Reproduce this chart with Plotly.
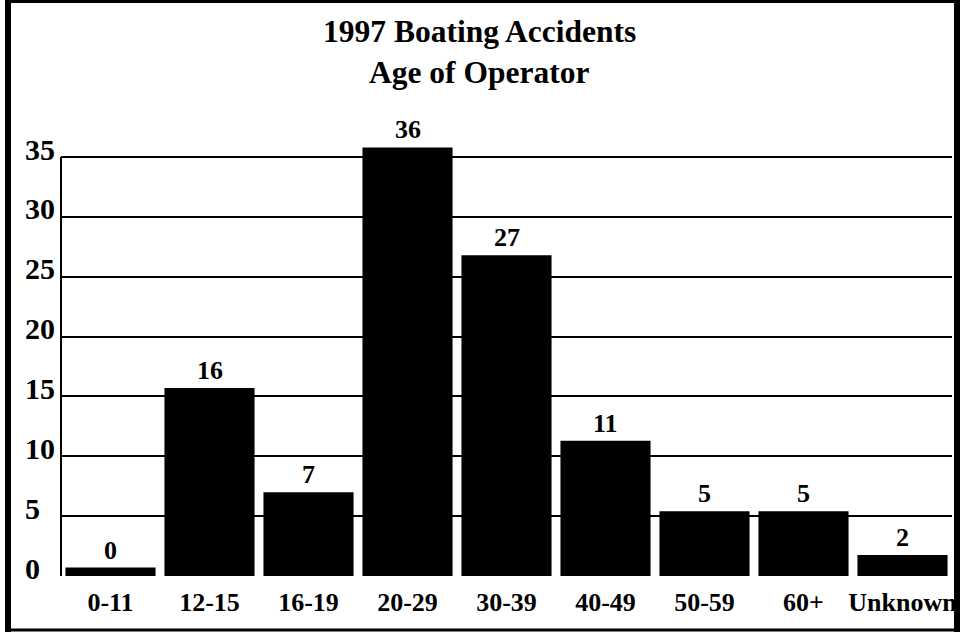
import plotly.graph_objects as go

# ---- data ----
categories = ["0-11", "12-15", "16-19", "20-29", "30-39", "40-49", "50-59", "60+", "Unknown"]
bar_heights = [0.7, 15.7, 7.0, 35.8, 26.8, 11.3, 5.4, 5.4, 1.75]   # drawn bar heights
bar_labels = ["0", "16", "7", "36", "27", "11", "5", "5", "2"]       # printed value labels
y_ticks = [0, 5, 10, 15, 20, 25, 30, 35]
title_lines = ["1997 Boating Accidents", "Age of Operator"]

# ---- layout geometry (pixels) ----
W, H = 968, 633
L, R, T, B = 61, 16, 140, 57
PW, PH = W - L - R, H - T - B
Y_MAX = (H - B - T) / 11.97  # ~11.97 px per unit

FONT = "Liberation Serif, Times New Roman, serif"


def px_x(p):
    return (p - L) / PW


def px_y(p):
    return (H - B - p) / PH


fig = go.Figure()
fig.add_trace(go.Bar(
    x=categories,
    y=bar_heights,
    marker=dict(color="black", line=dict(width=0)),
    hoverinfo="skip",
))

shapes = []
# left axis line from 0 to 35
shapes.append(dict(type="line", xref="paper", yref="y", x0=0, x1=0, y0=0, y1=max(y_ticks),
                   line=dict(color="black", width=2)))
# outer border
shapes.append(dict(type="line", xref="paper", yref="paper", x0=px_x(8), x1=px_x(8),
                   y0=px_y(0), y1=px_y(632), line=dict(color="black", width=6)))
shapes.append(dict(type="line", xref="paper", yref="paper", x0=px_x(957), x1=px_x(957),
                   y0=px_y(0), y1=px_y(632), line=dict(color="black", width=6)))
shapes.append(dict(type="line", xref="paper", yref="paper", x0=px_x(5), x1=px_x(960),
                   y0=px_y(0), y1=px_y(0), line=dict(color="black", width=6)))
shapes.append(dict(type="line", xref="paper", yref="paper", x0=px_x(5), x1=px_x(960),
                   y0=px_y(630), y1=px_y(630), line=dict(color="black", width=3)))

annotations = []
# value labels just above each bar
for cat, h, lab in zip(categories, bar_heights, bar_labels):
    annotations.append(dict(
        x=cat, xref="x", xanchor="center",
        y=h, yref="y", yanchor="bottom", yshift=1,
        text=lab, showarrow=False,
        font=dict(family=FONT, size=26, color="black", weight="bold"),
    ))

for v in y_ticks:
    annotations.append(dict(
        x=px_x(23), xref="paper", xanchor="left",
        y=v, yref="y", yanchor="middle", yshift=8,
        text=str(v), showarrow=False,
        font=dict(family=FONT, size=30, color="black", weight="bold"),
    ))

title_centers = [32, 72]
for line, cy in zip(title_lines, title_centers):
    annotations.append(dict(
        x=px_x(479), xref="paper", xanchor="center",
        y=px_y(cy), yref="paper", yanchor="middle",
        text=line, showarrow=False,
        font=dict(family=FONT, size=31.5, color="black", weight="bold"),
    ))

fig.update_layout(
    width=W, height=H,
    margin=dict(l=L, r=R, t=T, b=B, pad=0),
    paper_bgcolor="white", plot_bgcolor="white",
    showlegend=False,
    bargap=0.09,
    xaxis=dict(
        showgrid=False, showline=False, zeroline=False, ticks="",
        tickfont=dict(family=FONT, size=26, color="black", weight="bold"),
        ticklabelstandoff=8,
    ),
    yaxis=dict(
        range=[0, Y_MAX], tickvals=y_ticks, showticklabels=False,
        showgrid=True, gridcolor="black", gridwidth=2,
        zeroline=True, zerolinecolor="white", zerolinewidth=3,
        showline=False, ticks="",
    ),
    shapes=shapes,
    annotations=annotations,
)

fig.write_html("out.html", config={"displayModeBar": False},
               post_script="document.body.style.margin='0';")
